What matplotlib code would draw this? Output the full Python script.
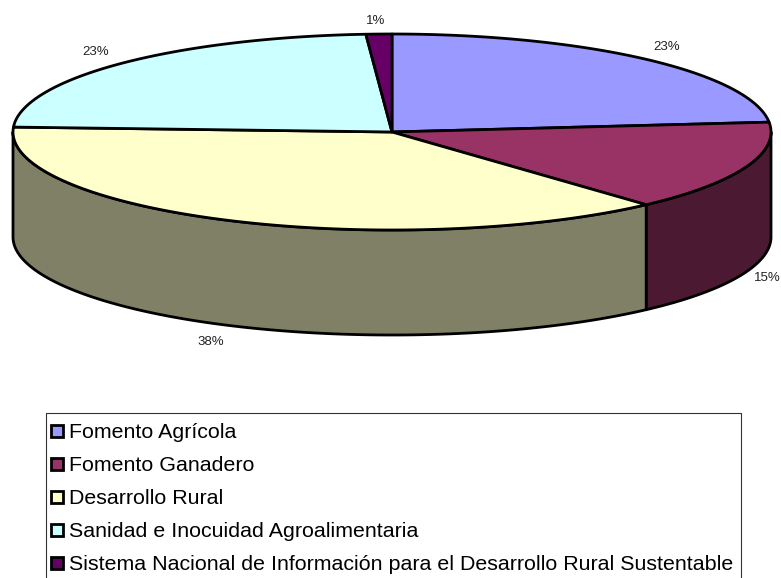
import numpy as np
import matplotlib
matplotlib.use("Agg")
import matplotlib.pyplot as plt
from matplotlib.patches import Polygon, Rectangle

plt.rcParams['font.family'] = ['Liberation Sans', 'DejaVu Sans']

categories = ["Fomento Agrícola", "Fomento Ganadero", "Desarrollo Rural",
              "Sanidad e Inocuidad Agroalimentaria",
              "Sistema Nacional de Información para el Desarrollo Rural Sustentable"]
values = [23.4, 14.9, 37.5, 23.1, 1.1]
pct_labels = ["23%", "15%", "38%", "23%", "1%"]
top_colors = ["#9999FF", "#993366", "#FFFFCC", "#CCFFFF", "#660066"]
side_colors = ["#4C4C80", "#4C1933", "#808066", "#668080", "#330033"]
label_pos = [(667, 47), (767, 278), (211, 342), (96, 52), (376, 21)]

# pie geometry in pixels
cx, cy = 392, 132
rx, ry = 379, 98
depth = 105

fig = plt.figure(figsize=(7.81, 5.78), dpi=100)
ax = fig.add_axes([0, 0, 1, 1])
ax.set_xlim(0, 781)
ax.set_ylim(578, 0)
ax.axis('off')


def arc(a0, a1, dy=0):
    t = np.radians(np.linspace(a0, a1, 200))
    return np.column_stack([cx + rx * np.cos(t), cy - ry * np.sin(t) + dy])


# angles go clockwise from 12 o'clock
ends = np.cumsum(values) / np.sum(values) * 360
starts = np.r_[0, ends[:-1]]

# side walls first, only the front half of the disc shows
for s, e, c in zip(starts, ends, side_colors):
    a0, a1 = 90 - s, 90 - e
    a0 = min(a0, 0)
    a1 = max(a1, -180)
    if a1 >= a0:
        continue
    top = arc(a0, a1)
    bot = arc(a1, a0, depth)
    ax.add_patch(Polygon(np.vstack([top, bot]), closed=True, fc=c, ec='black',
                         lw=2, joinstyle='round'))

# top faces
for s, e, c in zip(starts, ends, top_colors):
    pts = np.vstack([[cx, cy], arc(90 - s, 90 - e)])
    ax.add_patch(Polygon(pts, closed=True, fc=c, ec='black', lw=2,
                         joinstyle='round'))

for (x, y), txt in zip(label_pos, pct_labels):
    ax.text(x, y, txt, fontsize=9.5, color='#222222', ha='center', va='center')

# legend box runs off the bottom of the picture
ax.add_patch(Rectangle((46, 413), 695, 200, fc='white', ec='#333333', lw=0.8))
for i, (name, c) in enumerate(zip(categories, top_colors)):
    y = 431 + i * 33
    ax.add_patch(Rectangle((51, y - 6), 11.5, 12, fc=c, ec='black', lw=2))
    ax.text(69, y + 7, name, fontsize=15.4, color='black', ha='left', va='baseline')

fig.savefig("out.png", dpi=100)
